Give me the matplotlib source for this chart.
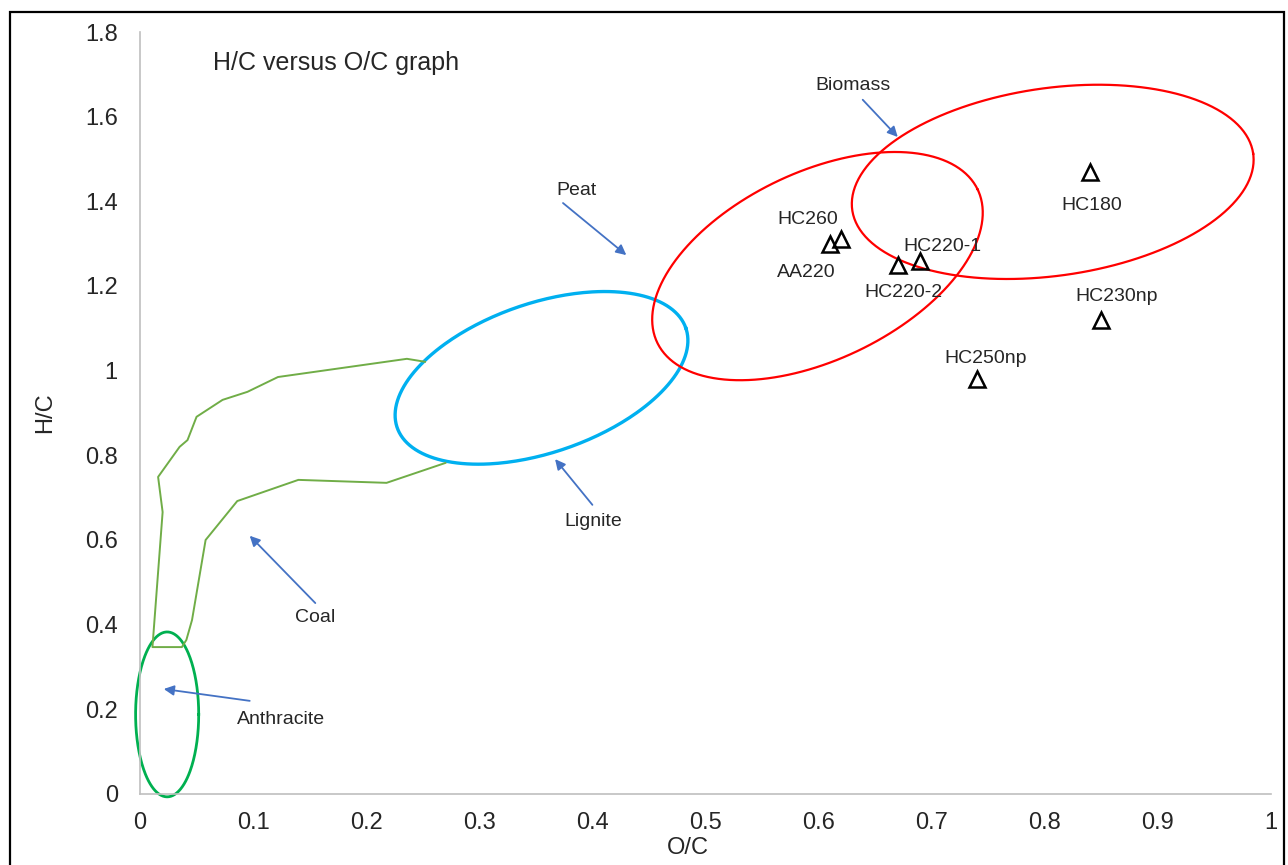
import numpy as np
import matplotlib
matplotlib.use("Agg")
import matplotlib.pyplot as plt
from matplotlib.patches import Rectangle
from matplotlib.ticker import FuncFormatter

plt.rcParams["font.family"] = ["Liberation Sans", "DejaVu Sans"]

# hydrochar samples (O/C, H/C)
sample_names = ["HC180", "HC260", "AA220", "HC220-2", "HC220-1", "HC230np", "HC250np"]
sample_oc = [0.84, 0.62, 0.61, 0.67, 0.69, 0.85, 0.74]
sample_hc = [1.47, 1.31, 1.30, 1.25, 1.26, 1.12, 0.98]
# label offsets in points from each marker
label_dx = [1.5, -24, -17, 4, 16, 11, 6.5]
label_dy = [-24, 14.5, -21, -20, 10, 16.5, 14.5]

# fuel regions drawn as ellipses: centre, semi-axes (in O/C units on screen), tilt in degrees
region_names = ["Anthracite", "Lignite", "Peat", "Biomass"]
region_cx = [0.024, 0.355, 0.599, 0.807]
region_cy = [0.188, 0.983, 1.247, 1.446]
region_a = [0.0279, 0.135, 0.157, 0.179]
region_b = [0.0729, 0.066, 0.083, 0.083]
region_angle = [0, 19, 25.5, 8]
region_colors = ["#00b050", "#00b0f0", "#ff0000", "#ff0000"]
region_lw = [2.0, 2.4, 1.6, 1.6]

# coal band outline
coal_x = [0.252, 0.236, 0.122, 0.095, 0.073, 0.050, 0.042, 0.035, 0.016, 0.020,
          0.011, 0.037, 0.041, 0.046, 0.058, 0.086, 0.140, 0.218, 0.270]
coal_y = [1.021, 1.028, 0.985, 0.950, 0.931, 0.891, 0.836, 0.820, 0.749, 0.666,
          0.347, 0.347, 0.364, 0.411, 0.600, 0.692, 0.742, 0.735, 0.782]

# pointer labels: text position, arrow tail, arrow tip
arrow_labels = ["Biomass", "Peat", "Lignite", "Coal", "Anthracite"]
arrow_text = [(0.630, 1.673), (0.386, 1.425), (0.401, 0.643), (0.155, 0.418), (0.125, 0.177)]
arrow_tail = [(0.639, 1.640), (0.374, 1.396), (0.400, 0.683), (0.155, 0.451), (0.097, 0.220)]
arrow_tip = [(0.670, 1.552), (0.430, 1.273), (0.367, 0.791), (0.097, 0.610), (0.021, 0.248)]

text_color = "#262626"

fig = plt.figure(figsize=(12.88, 8.65), dpi=100)
ax = fig.add_axes([0.1087, 0.0821, 0.8781, 0.8809])
ax.set_xlim(0, 1)
ax.set_ylim(0, 1.8)

# how many H/C units share the screen length of one O/C unit
pos = ax.get_position()
fw, fh = fig.get_size_inches()
k = (pos.width * fw / 1.0) / (pos.height * fh / 1.8)

t = np.linspace(0, 2 * np.pi, 300)
for cx, cy, a, b, ang, col, lw in zip(region_cx, region_cy, region_a, region_b,
                                       region_angle, region_colors, region_lw):
    th = np.radians(ang)
    u, v = a * np.cos(t), b * np.sin(t)
    ex = cx + u * np.cos(th) - v * np.sin(th)
    ey = cy + (u * np.sin(th) + v * np.cos(th)) * k
    ax.plot(ex, ey, color=col, lw=lw, zorder=2, clip_on=False)

ax.plot(coal_x, coal_y, color="#70ad47", lw=1.4, zorder=2)

for label, txt, tail, tip in zip(arrow_labels, arrow_text, arrow_tail, arrow_tip):
    ax.annotate("", xy=tip, xytext=tail,
                arrowprops=dict(arrowstyle="-|>", color="#4472c4", lw=1.3,
                                mutation_scale=15, shrinkA=0, shrinkB=0))
    ax.text(txt[0], txt[1], label, fontsize=14, color=text_color,
            ha="center", va="center")

ax.plot(sample_oc, sample_hc, linestyle="none", marker="^", ms=11.5,
        mfc="none", mec="black", mew=1.8, zorder=3)
for name, x, y, dx, dy in zip(sample_names, sample_oc, sample_hc, label_dx, label_dy):
    ax.annotate(name, (x, y), xytext=(dx, dy), textcoords="offset points",
                fontsize=14, color=text_color, ha="center", va="center")

ax.text(0.0645, 0.959, "H/C versus O/C graph", transform=ax.transAxes,
        fontsize=18, color=text_color, va="center", ha="left")

ax.set_xticks(np.arange(0, 1.01, 0.1))
ax.set_yticks(np.arange(0, 1.81, 0.2))
fmt = FuncFormatter(lambda v, _: f"{v:g}")
ax.xaxis.set_major_formatter(fmt)
ax.yaxis.set_major_formatter(fmt)
ax.tick_params(axis="both", length=0, labelsize=17, labelcolor=text_color)
ax.tick_params(axis="x", pad=13)
ax.tick_params(axis="y", pad=16)

for side in ["top", "right"]:
    ax.spines[side].set_visible(False)
for side in ["left", "bottom"]:
    ax.spines[side].set_color("#bfbfbf")
    ax.spines[side].set_linewidth(1.2)

ax.set_xlabel("O/C", fontsize=17, color=text_color)
ax.set_ylabel("H/C", fontsize=17, color=text_color)
ax.xaxis.set_label_coords(0.4845, -0.057)
ax.yaxis.set_label_coords(-0.074, 0.5)

fig.patches.append(Rectangle((0.0078, -0.02), 0.9890, 1.006, transform=fig.transFigure,
                             fill=False, edgecolor="black", lw=1.6))

fig.savefig("out.png", dpi=100)
